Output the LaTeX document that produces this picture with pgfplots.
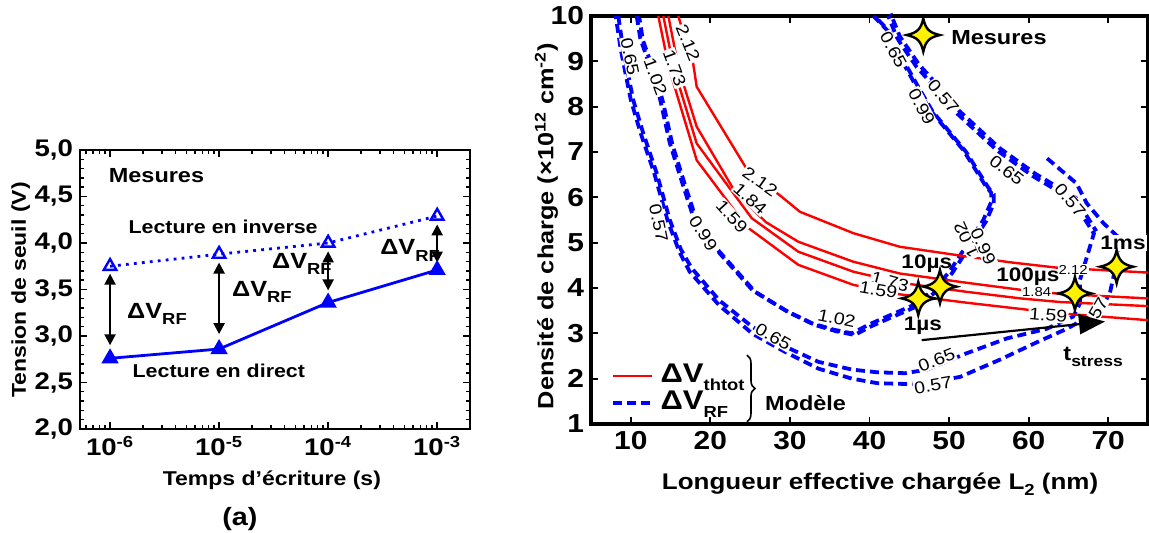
\documentclass[border=0pt]{standalone}
\usepackage{fontspec}
\setmainfont{Liberation Sans}[FakeStretch=1.15]
\usepackage{pgfplots}
\usepackage{pgfplotstable}
\pgfplotsset{compat=1.18}
\usetikzlibrary{arrows.meta,decorations.pathreplacing}
\newcommand{\fs}[1]{\fontsize{#1}{#1}\selectfont}
\newcommand{\sub}[2]{\raisebox{-0.28em}{\fs{#1}#2}}

\pgfdeclareplotmark{star4}{%
  \pgfpathmoveto{\pgfqpoint{0pt}{\pgfplotmarksize}}%
  \pgfpathcurveto{\pgfqpoint{0.14\pgfplotmarksize}{0.36\pgfplotmarksize}}{\pgfqpoint{0.36\pgfplotmarksize}{0.14\pgfplotmarksize}}{\pgfqpoint{\pgfplotmarksize}{0pt}}%
  \pgfpathcurveto{\pgfqpoint{0.36\pgfplotmarksize}{-0.14\pgfplotmarksize}}{\pgfqpoint{0.14\pgfplotmarksize}{-0.36\pgfplotmarksize}}{\pgfqpoint{0pt}{-\pgfplotmarksize}}%
  \pgfpathcurveto{\pgfqpoint{-0.14\pgfplotmarksize}{-0.36\pgfplotmarksize}}{\pgfqpoint{-0.36\pgfplotmarksize}{-0.14\pgfplotmarksize}}{\pgfqpoint{-\pgfplotmarksize}{0pt}}%
  \pgfpathcurveto{\pgfqpoint{-0.36\pgfplotmarksize}{0.14\pgfplotmarksize}}{\pgfqpoint{-0.14\pgfplotmarksize}{0.36\pgfplotmarksize}}{\pgfqpoint{0pt}{\pgfplotmarksize}}%
  \pgfpathclose
  \pgfusepathqfillstroke
}

\tikzset{
  blu/.style={blue, line width=1.9pt, dash pattern=on 4.5pt off 2.5pt},
  cl/.style={font=\fs{8.5}, fill=white, inner sep=0.5pt},
}

% ---- red contours (Delta V_thtot) ----
\pgfplotstableread{
x y
15.97 10
17.0 9.4
17.8 9.0
18.28 8.44
24.9 6.53
28.7 6.05
31.27 5.68
37.96 5.21
43.8 4.91
52 4.70
58 4.56
63.5 4.45
75 4.34
}\rA
\pgfplotstableread{
x y
14.72 10
16.0 8.85
18.28 7.56
23.1 6.12
27 5.45
31.06 5.02
37.96 4.58
43.8 4.32
52 4.12
59 3.96
64 3.87
75 3.77
}\rB
\pgfplotstableread{
x y
14.09 10
15.4 8.85
18.28 7.19
25.2 5.54
31.06 4.80
37.96 4.36
43.8 4.12
52 3.92
59 3.77
64 3.69
75 3.60
}\rC
\pgfplotstableread{
x y
13.46 10
14.8 8.85
18.28 6.82
24.57 5.35
31.06 4.51
37.96 4.07
43.8 3.86
52 3.68
59.4 3.53
64 3.44
75 3.29
}\rD
% ---- blue contours (Delta V_RF) ----
\pgfplotstableread{
x y
10.74 10
11.2 9.5
12.2 9.0
13.0 8.6
13.7 8.15
14.9 7.2
16.5 6.3
17.8 5.6
19.5 5.1
21.5 4.7
25.3 3.95
29.5 3.5
32.8 3.22
35.5 3.08
37.8 3.0
40.0 3.2
42.2 3.37
45.5 3.62
48.0 3.95
50.0 4.35
51.5 4.75
53.0 5.15
54.3 5.5
55.3 5.9
55.3 6.1
54.6 6.25
51.8 7.04
47.6 7.93
45.9 8.44
43.8 9.1
42.2 9.69
40.5 10
}\bA
\pgfplotstableread{
x y
8.43 10
9.06 9.25
10.3 8.15
11.57 7.41
13.26 6.53
14.9 5.5
16.3 4.85
17.6 4.45
21.1 3.73
25.3 3.14
29.5 2.7
33.6 2.37
37.8 2.2
41.0 2.14
44.5 2.12
47.2 2.2
52.2 2.56
57.3 2.89
62.27 3.1
65.6 3.37
66.45 3.66
66.45 4.18
67.6 4.85
68.2 5.2
67.3 5.45
65.6 5.94
60.6 6.46
56.0 7.04
51.0 7.85
47.6 8.55
45.9 8.88
43.5 9.5
42.36 10
}\bB
\pgfplotstableread{
x y
68.2 5.2
67.3 5.45
65.6 5.94
60.6 6.46
56.0 7.04
51.0 7.85
47.6 8.55
45.9 8.88
43.5 9.5
42.36 10
}\bR
\pgfplotstableread{
x y
8.1 10
8.75 9.25
10.0 8.15
11.25 7.41
12.95 6.53
14.6 5.5
16.1 4.8
17.4 4.36
21.1 3.62
25.3 2.99
29.5 2.58
33.6 2.22
37.8 2.0
41.0 1.9
45.1 1.88
48.0 1.93
51.4 2.04
56.4 2.42
61.0 2.8
64.8 3.1
68.97 3.51
70.2 3.88
70.85 4.4
71.27 4.84
71.1 5.15
69.4 5.43
67.3 5.87
66.0 6.31
62.05 6.9
}\bC

\begin{document}
\begin{tikzpicture}
\useasboundingbox (0,0) rectangle (574.5pt,266.5pt);

% ================= (a) =================
\begin{axis}[
  at={(40pt,52pt)}, anchor=south west, scale only axis,
  width=195pt, height=139.5pt,
  xmode=log, xmin=5.3e-7, xmax=2e-3, ymin=2, ymax=5,
  xtick={1e-6,1e-5,1e-4,1e-3},
  xticklabels={10\textsuperscript{-6},10\textsuperscript{-5},10\textsuperscript{-4},10\textsuperscript{-3}},
  minor xtick={6e-7,7e-7,8e-7,9e-7,2e-6,3e-6,4e-6,5e-6,6e-6,7e-6,8e-6,9e-6,2e-5,3e-5,4e-5,5e-5,6e-5,7e-5,8e-5,9e-5,2e-4,3e-4,4e-4,5e-4,6e-4,7e-4,8e-4,9e-4,2e-3},
  ytick={2,2.5,3,3.5,4,4.5,5},
  minor y tick num=4,
  yticklabel style={/pgf/number format/.cd, fixed, fixed zerofill, precision=1, use comma, assume math mode=true},
  tick label style={font=\bfseries\fs{12}},
  tick align=inside, major tick length=3.5pt, minor tick length=1.8pt,
  every tick/.style={black, line width=0.7pt},
  axis line style={line width=1pt},
  xlabel={Temps d’écriture (s)},
  ylabel={Tension de seuil (V)},
  label style={font=\bfseries\fs{10}},
  xlabel style={at={(axis description cs:0.492,-0.183)}, anchor=center},
  ylabel style={at={(axis description cs:-0.152,0.498)}, anchor=center},
  clip=false,
]
\addplot[blue, line width=1.4pt, dash pattern=on 1.4pt off 2.6pt, mark=triangle, mark size=3.6pt, mark options={solid, line width=1.2pt}]
  coordinates {(1e-6,3.75) (1e-5,3.88) (1e-4,4.0) (1e-3,4.29)};
\addplot[blue, line width=1.4pt, mark=triangle*, mark size=3.6pt, mark options={solid, fill=blue}]
  coordinates {(1e-6,2.76) (1e-5,2.86) (1e-4,3.36) (1e-3,3.71)};
\draw[line width=1.1pt, {Triangle[length=5.5pt,width=5.5pt]}-{Triangle[length=5.5pt,width=5.5pt]}] (axis cs:1e-6,3.67) -- (axis cs:1e-6,2.90);
\draw[line width=1.1pt, {Triangle[length=5.5pt,width=5.5pt]}-{Triangle[length=5.5pt,width=5.5pt]}] (axis cs:1e-5,3.79) -- (axis cs:1e-5,3.02);
\draw[line width=1.1pt, {Triangle[length=5.5pt,width=5.5pt]}-{Triangle[length=5.5pt,width=5.5pt]}] (axis cs:1e-4,3.91) -- (axis cs:1e-4,3.49);
\draw[line width=1.1pt, {Triangle[length=5.5pt,width=5.5pt]}-{Triangle[length=5.5pt,width=5.5pt]}] (axis cs:1e-3,4.20) -- (axis cs:1e-3,3.79);
\node[anchor=west, font=\bfseries\fs{10.2}] at (rel axis cs:0.056,0.91) {Mesures};
\node[font=\bfseries\fs{9.3}] at (rel axis cs:0.367,0.724) {Lecture en inverse};
\node[font=\bfseries\fs{9.3}] at (rel axis cs:0.356,0.208) {Lecture en direct};
\node[anchor=base west, inner sep=0, font=\bfseries\fs{11}] at (rel axis cs:0.120,0.397) {ΔV\sub{8}{RF}};
\node[anchor=base west, inner sep=0, font=\bfseries\fs{11}] at (rel axis cs:0.389,0.474) {ΔV\sub{8}{RF}};
\node[anchor=base west, inner sep=0, font=\bfseries\fs{11}] at (rel axis cs:0.4915,0.576) {ΔV\sub{8}{RF}};
\node[anchor=base west, inner sep=0, font=\bfseries\fs{11}] at (rel axis cs:0.769,0.624) {ΔV\sub{8}{RF}};
\node[font=\bfseries\fs{12.5}] at (rel axis cs:0.41,-0.323) {(a)};
\end{axis}

% ================= (b) =================
\begin{axis}[
  at={(295.5pt,54.5pt)}, anchor=south west, scale only axis,
  width=278.5pt, height=204pt,
  xmin=5, xmax=75, ymin=1, ymax=10,
  xtick={10,20,...,70}, ytick={1,2,...,10},
  tick label style={font=\bfseries\fs{13}},
  /pgf/number format/assume math mode=true,
  tick align=inside, major tick length=3.5pt,
  every tick/.style={black, line width=0.9pt},
  axis line style={line width=1.7pt},
  xlabel={Longueur effective chargée L\sub{8}{2} (nm)},
  ylabel={Densité de charge (×10\textsuperscript{12} cm\textsuperscript{-2})},
  label style={font=\bfseries\fs{11.3}},
  xlabel style={at={(axis description cs:0.519,-0.147)}, anchor=center},
  ylabel style={at={(axis description cs:-0.08,0.485)}, anchor=center, font=\bfseries\fs{11}},
  clip=false,
]
\addplot[blu] table {\bA};
\addplot[blu, xshift=1.3pt, yshift=-0.8pt, dash phase=2pt] table {\bA};
\addplot[blu] table {\bB};
\addplot[blu, xshift=1.2pt, yshift=1.2pt, dash phase=2pt] table {\bR};
\addplot[blu, dash phase=3pt] table {\bC};
\addplot[red, line width=1.2pt] table {\rA};
\addplot[red, line width=1.2pt] table {\rB};
\addplot[red, line width=1.2pt] table {\rC};
\addplot[red, line width=1.2pt] table {\rD};
% contour labels
\node[cl, rotate=-68] at (axis cs:17.2,9.40) {2.12};
\node[cl, rotate=-70] at (axis cs:15.5,8.85) {1.73};
\node[cl, rotate=-78] at (axis cs:9.9,9.1) {0.65};
\node[cl, rotate=-70] at (axis cs:13.1,8.66) {1.02};
\node[cl, rotate=-35] at (axis cs:26.24,6.35) {2.12};
\node[cl, rotate=-42] at (axis cs:25.0,5.97) {1.84};
\node[cl, rotate=-48] at (axis cs:22.7,5.57) {1.59};
\node[cl, rotate=-78] at (axis cs:13.5,5.43) {0.57};
\node[cl, rotate=-58] at (axis cs:19.1,5.21) {0.99};
\node[cl, rotate=-12] at (axis cs:35.88,3.33) {1.02};
\node[cl, rotate=-30] at (axis cs:27.9,2.93) {0.65};
\node[cl, rotate=-15] at (axis cs:42.58,4.14) {1.73};
\node[cl, rotate=-10] at (axis cs:41.1,3.96) {1.59};
\node[cl, rotate=115] at (axis cs:52.2,5.06) {1.02};
\node[cl, rotate=-65] at (axis cs:54.3,4.91) {0.99};
\node[cl, rotate=22] at (axis cs:48.44,2.41) {0.65};
\node[cl, rotate=10] at (axis cs:48.0,1.86) {0.57};
\node[cl, font=\fs{6.5}] at (axis cs:65.6,4.40) {2.12};
\node[cl, font=\fs{6.5}] at (axis cs:61.0,3.92) {1.84};
\node[cl, rotate=-5] at (axis cs:62.47,3.40) {1.59};
\node[cl, rotate=60] at (axis cs:68.75,3.55) {57};
\node[cl, rotate=-62] at (axis cs:43.0,9.25) {0.65};
\node[cl, rotate=-62] at (axis cs:46.55,8.0) {0.99};
\node[cl, rotate=-50] at (axis cs:49.27,8.22) {0.57};
\node[cl, rotate=-38] at (axis cs:57.24,6.60) {0.65};
\node[cl, rotate=-50] at (axis cs:65.2,5.94) {0.57};
% annotations
\node[font=\bfseries\fs{9.8}, fill=white, inner sep=0.5pt] at (axis cs:71.86,4.99) {1ms};
\node[font=\bfseries\fs{9.8}] at (axis cs:46.72,3.16) {1µs};
\node[font=\bfseries\fs{9.8}] at (axis cs:47.2,4.53) {10µs};
\node[font=\bfseries\fs{9.8}] at (axis cs:59.9,4.24) {100µs};
\node[font=\bfseries\fs{10.2}, anchor=west] at (axis cs:49.4,9.52) {Mesures};
\node[font=\bfseries\fs{10.2}] at (axis cs:68.1,2.48) {t\sub{7.6}{stress}};
\draw[line width=1.1pt, -{Triangle[length=13pt,width=10pt]}] (axis cs:46.56,2.85) -- (axis cs:69.6,3.26);
\addplot[only marks, mark=star4, mark size=8.3pt, mark options={fill=yellow, draw=black, line width=1.2pt}]
  coordinates {(46.13,3.77) (48.86,4.03) (65.82,3.88) (71.06,4.47) (46.76,9.58)};
% legend
\draw[red, line width=1.2pt] (axis cs:7.8,2.06) -- (axis cs:12.7,2.06);
\draw[blu, line width=2.2pt] (axis cs:7.8,1.46) -- (axis cs:13.0,1.46);
\node[anchor=base west, inner sep=0, font=\bfseries\fs{13.5}] at (axis cs:13.7,1.91) {ΔV\sub{8}{thtot}};
\node[anchor=base west, inner sep=0, font=\bfseries\fs{13.5}] at (axis cs:13.7,1.31) {ΔV\sub{8}{RF}};
\draw[line width=0.8pt, decorate, decoration={brace, amplitude=4pt}] (axis cs:24.6,2.52) -- (axis cs:24.6,1.05);
\node[anchor=west, font=\bfseries\fs{10.2}] at (axis cs:26.0,1.47) {Modèle};
\end{axis}
\end{tikzpicture}
\end{document}
